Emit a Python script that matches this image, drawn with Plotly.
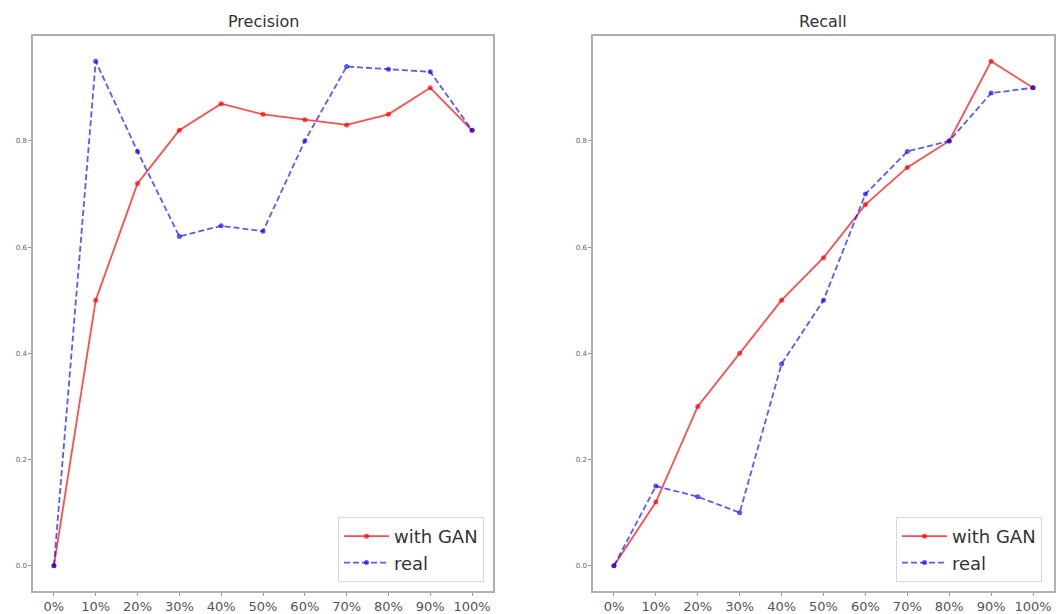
import plotly.graph_objects as go

categories = ["0%", "10%", "20%", "30%", "40%", "50%", "60%", "70%", "80%", "90%", "100%"]
precision_gan = [0.0, 0.50, 0.72, 0.82, 0.87, 0.85, 0.84, 0.83, 0.85, 0.90, 0.82]
precision_real = [0.0, 0.95, 0.78, 0.62, 0.64, 0.63, 0.80, 0.94, 0.935, 0.93, 0.82]
recall_gan = [0.0, 0.12, 0.30, 0.40, 0.50, 0.58, 0.68, 0.75, 0.80, 0.95, 0.90]
recall_real = [0.0, 0.15, 0.13, 0.10, 0.38, 0.50, 0.70, 0.78, 0.80, 0.89, 0.90]
y_ticks = [0.0, 0.2, 0.4, 0.6, 0.8]
y_tick_labels = ["0.0", "0.2", "0.4", "0.6", "0.8"]

W, H = 1062, 614
RED = "rgba(255,0,0,0.7)"
BLUE = "rgba(0,0,255,0.65)"

fig = go.Figure()
xi = list(range(len(categories)))

def add(ax, ys, name, color, dash, legend, show):
    fig.add_trace(go.Scatter(
        x=xi, y=ys, name=name, mode="lines+markers",
        xaxis="x" + ("" if ax == 1 else str(ax)), yaxis="y" + ("" if ax == 1 else str(ax)),
        line=dict(color=color, width=1.8, dash=dash),
        marker=dict(color=color, size=5),
        legend=legend, showlegend=show,
    ))

add(1, precision_gan, "with GAN", RED, "solid", "legend", True)
add(1, precision_real, "real", BLUE, "6px,3px", "legend", True)
add(2, recall_gan, "with GAN", RED, "solid", "legend2", True)
add(2, recall_real, "real", BLUE, "6px,3px", "legend2", True)

def px_x(p):
    return p / W

def px_y(p):
    return 1 - p / H

top, bottom = 36, 591
frame = "#b0b0b0"
xcommon = dict(range=[-0.5, 10.5], tickvals=xi, ticktext=categories, showgrid=False, zeroline=False,
               showline=True, linecolor=frame, linewidth=1.5, mirror=True,
               ticks="outside", ticklen=3, tickcolor="#999",
               tickfont=dict(family="DejaVu Sans", size=13, color="#555"))
ycommon = dict(range=[-0.0475, 0.9975], tickvals=y_ticks, ticktext=y_tick_labels, showgrid=False, zeroline=False,
               showline=True, linecolor=frame, linewidth=1.5, mirror=True,
               ticks="outside", ticklen=3, tickcolor="#999",
               tickfont=dict(family="DejaVu Sans", size=7, color="#666"))

legcommon = dict(bgcolor="white", bordercolor="#d8d8d8", borderwidth=1,
                 font=dict(family="DejaVu Sans", size=18, color="#333"),
                 xanchor="right", yanchor="bottom", itemwidth=45, tracegroupgap=0)

fig.update_layout(
    width=W, height=H, margin=dict(l=0, r=0, t=0, b=0),
    paper_bgcolor="white", plot_bgcolor="white",
    xaxis=dict(domain=[px_x(33), px_x(493)], anchor="y", **xcommon),
    yaxis=dict(domain=[px_y(bottom), px_y(top)], anchor="x", **ycommon),
    xaxis2=dict(domain=[px_x(593), px_x(1054)], anchor="y2", **xcommon),
    yaxis2=dict(domain=[px_y(bottom), px_y(top)], anchor="x2", **ycommon),
    legend=dict(x=px_x(484), y=px_y(582), **legcommon),
    legend2=dict(x=px_x(1042), y=px_y(582), **legcommon),
    annotations=[
        dict(text="Precision", x=px_x(263), y=px_y(21), xref="paper", yref="paper",
             xanchor="center", yanchor="middle",
             showarrow=False, font=dict(family="DejaVu Sans", size=16, color="#333")),
        dict(text="Recall", x=px_x(823), y=px_y(21), xref="paper", yref="paper",
             xanchor="center", yanchor="middle",
             showarrow=False, font=dict(family="DejaVu Sans", size=16, color="#333")),
    ],
)

fig.write_html("out.html")
